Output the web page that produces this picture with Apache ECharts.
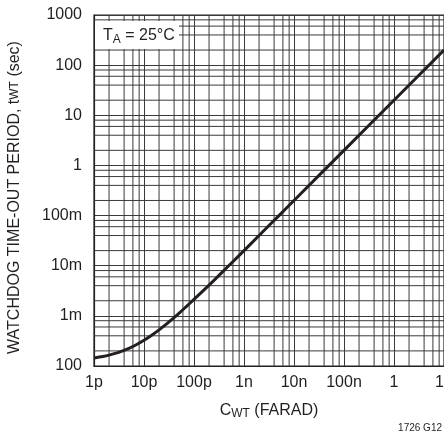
<!DOCTYPE html>
<html>
<head>
<meta charset="utf-8">
<script src="https://cdn.jsdelivr.net/npm/echarts@6/dist/echarts.min.js"></script>
<style>html,body{margin:0;padding:0;background:#fff}#c{width:444px;height:436px}</style>
</head>
<body>
<div id="c"></div>
<script>
// Capacitance (F) and watchdog time-out period (s)
var capFarad = [1e-12, 1.5e-12, 2e-12, 3e-12, 5e-12, 7e-12, 1e-11, 1.5e-11, 2e-11, 3e-11, 5e-11, 7e-11,
                1e-10, 2e-10, 5e-10, 1e-9, 2e-9, 5e-9, 1e-8, 1e-7, 1e-6, 1e-5];
var tSeconds = [1.45e-4, 1.55e-4, 1.65e-4, 1.85e-4, 2.25e-4, 2.65e-4, 3.25e-4, 4.25e-4, 5.25e-4, 7.25e-4, 1.125e-3, 1.53e-3,
                2.13e-3, 4.1e-3, 1.01e-2, 2.0e-2, 4.0e-2, 0.1, 0.2, 2, 20, 200];
// Tick labels by decade exponent
var xExp = [-12, -11, -10, -9, -8, -7, -6, -5];
var xTickLabels = ['1p', '10p', '100p', '1n', '10n', '100n', '1', '10'];
var yExp = [-4, -3, -2, -1, 0, 1, 2, 3];
var yTickLabels = ['100', '1m', '10m', '100m', '1', '10', '100', '1000'];
var minorMult = [2, 4, 6, 8];

var FONT = "'Liberation Sans', Arial, sans-serif";
var GRIDC = '#3a3a3a';
var XMIN = 1e-12, XMAX = 1e-5, YMIN = 1e-4, YMAX = 1e3;

function lbl(exps, labels) {
  return function (v) {
    var e = Math.round(Math.log10(v));
    var i = exps.indexOf(e);
    return i >= 0 ? labels[i] : '';
  };
}

// minor grid lines (2,4,6,8 in every decade) as broken line segments
var vGrid = [], hGrid = [];
xExp.slice(0, -1).forEach(function (e) {
  minorMult.forEach(function (m) {
    var v = m * Math.pow(10, e);
    vGrid.push([v, YMIN], [v, YMAX], '-');
  });
});
yExp.slice(0, -1).forEach(function (e) {
  minorMult.forEach(function (m) {
    var v = m * Math.pow(10, e);
    hGrid.push([XMIN, v], [XMAX, v], '-');
  });
});

function gridSeries(d) {
  return { type: 'line', data: d, showSymbol: false, silent: true, connectNulls: false,
    lineStyle: { color: GRIDC, width: 1 }, z: 1, animation: false };
}

var chart = echarts.init(document.getElementById('c'), null, { renderer: 'canvas' });
chart.setOption({
  animation: false,
  textStyle: { fontFamily: FONT },
  grid: { left: 94, right: 0, top: 15, bottom: 70, show: true, borderColor: '#222', borderWidth: 1.2,
    containLabel: false, outerBoundsMode: 'none' },
  xAxis: {
    type: 'log', logBase: 10, min: XMIN, max: XMAX,
    name: 'C{s|WT} (FARAD)', nameLocation: 'middle', nameGap: 36,
    nameTextStyle: { fontSize: 16, color: '#231f20', fontFamily: FONT,
      rich: { s: { fontSize: 12, verticalAlign: 'bottom', padding: [6, 0, 0, 0], color: '#231f20', fontFamily: FONT } } },
    axisLine: { lineStyle: { color: '#222', width: 1.2 } },
    axisTick: { show: false },
    axisLabel: { formatter: lbl(xExp, xTickLabels), fontSize: 16, color: '#231f20', margin: 9, fontFamily: FONT, showMaxLabel: true },
    splitLine: { show: true, lineStyle: { color: GRIDC, width: 1 } }
  },
  yAxis: {
    type: 'log', logBase: 10, min: YMIN, max: YMAX,
    name: 'WATCHDOG TIME-OUT PERIOD, t{s|WT} (sec)', nameLocation: 'middle', nameGap: 71, nameRotate: 90,
    nameTextStyle: { fontSize: 16, color: '#231f20', fontFamily: FONT, padding: [0, 14, 0, 0],
      rich: { s: { fontSize: 12, color: '#231f20', fontFamily: FONT } } },
    axisLine: { lineStyle: { color: '#222', width: 1.2 } },
    axisTick: { show: false },
    axisLabel: { formatter: lbl(yExp, yTickLabels), fontSize: 16, color: '#231f20', margin: 12, fontFamily: FONT },
    splitLine: { show: true, lineStyle: { color: GRIDC, width: 1 } }
  },
  series: [
    gridSeries(vGrid),
    gridSeries(hGrid),
    {
      type: 'line',
      data: capFarad.map(function (c, i) { return [c, tSeconds[i]]; }),
      showSymbol: false,
      smooth: 0.3,
      lineStyle: { color: '#231f20', width: 3 },
      z: 5
    }
  ],
  graphic: [
    { type: 'rect', shape: { x: 95, y: 21, width: 84, height: 28 }, style: { fill: '#fff' }, z: 100 },
    { type: 'text', x: 103, y: 26, z: 101,
      style: { text: 'T{s|A} = 25°C', fontSize: 16, fill: '#231f20', fontFamily: FONT,
        rich: { s: { fontSize: 12, padding: [8, 0, 0, 0], fill: '#231f20', fontFamily: FONT } } } },
    { type: 'text', right: 2, bottom: 3, z: 101,
      style: { text: '1726 G12', fontSize: 10, fill: '#231f20', fontFamily: FONT } }
  ]
});
</script>
</body>
</html>
